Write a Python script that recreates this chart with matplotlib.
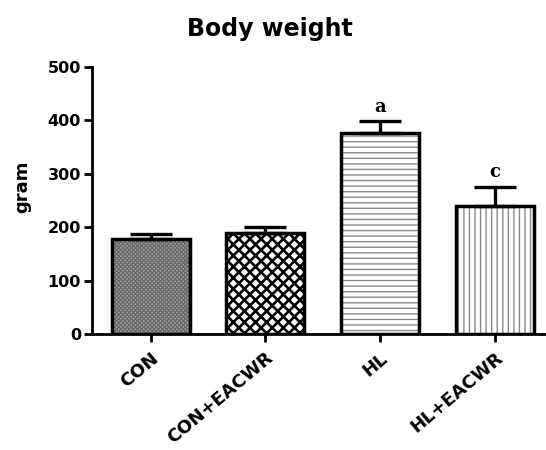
import matplotlib
matplotlib.use('Agg')
import matplotlib.pyplot as plt

# Data
groups = ['CON', 'CON+EACWR', 'HL', 'HL+EACWR']
weights = [178, 189, 377, 240]
sem = [9, 12, 21, 35]
marks = ['', '', 'a', 'c']

# pattern per bar: (face, hatch, hatch colour, hatch width)
fills = [('#a6a6a6', 'xxxxxxxx', '#6a6a6a', 1.0),
         ('white', 'xxx', 'black', 1.9),
         ('white', '---', '#8a8a8a', 1.0),
         ('white', '|||', '#8a8a8a', 1.0)]

plt.rcParams['font.family'] = ['DejaVu Sans']
plt.rcParams['font.weight'] = 'bold'

fig = plt.figure(figsize=(5.46, 4.50), dpi=100)
ax = fig.add_axes((0.1685, 0.258, 0.83, 0.593))

x = range(len(groups))
for i, (face, hatch, hc, hw) in enumerate(fills):
    plt.rcParams['hatch.linewidth'] = hw
    ax.bar(i, weights[i], width=0.68, color=face, hatch=hatch,
           edgecolor=hc, linewidth=0, zorder=2)
# outlines on top
ax.bar(x, weights, width=0.68, fill=False, edgecolor='black', linewidth=2.5, zorder=3)

# upper error bars only
ax.errorbar(x, weights, yerr=[[0] * 4, sem], fmt='none', ecolor='black',
            elinewidth=2.4, capsize=15, capthick=2.4, zorder=4)

for i, m in enumerate(marks):
    if m:
        ax.text(i, weights[i] + sem[i] + 11, m, ha='center', va='bottom',
                fontsize=13, fontweight='bold', family='DejaVu Serif')

ax.set_xlim(-0.51, 3.44)
ax.set_ylim(0, 500)
ax.set_yticks([0, 100, 200, 300, 400, 500])
ax.set_xticks(list(x))
ax.set_xticklabels(groups, rotation=40, ha='right', rotation_mode='anchor',
                   fontsize=13, fontweight='bold')
for lbl in ax.get_yticklabels():
    lbl.set_fontsize(11.5)
    lbl.set_fontweight('bold')

ax.spines['top'].set_visible(False)
ax.spines['right'].set_visible(False)
ax.spines['left'].set_linewidth(2)
ax.spines['bottom'].set_linewidth(2)
ax.tick_params(axis='both', width=2, length=6, pad=2)
ax.tick_params(axis='x', pad=5)

ax.set_ylabel('gram', fontsize=13, fontweight='bold', labelpad=8)
ax.yaxis.set_label_coords(-0.135, 0.55)
fig.text(0.495, 0.935, 'Body weight', ha='center', va='center',
         fontsize=17, fontweight='bold')

fig.savefig('out.png', dpi=100)
plt.close(fig)
